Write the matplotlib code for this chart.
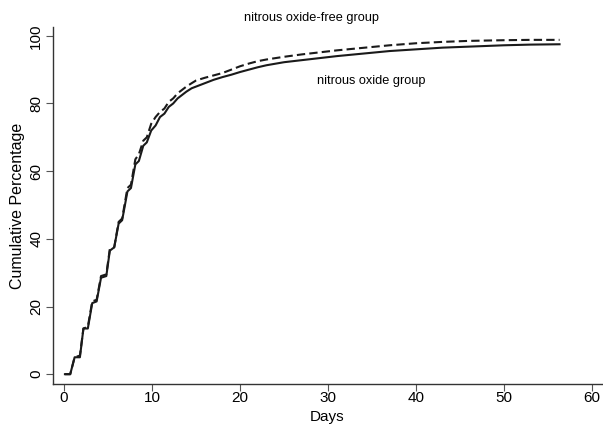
import matplotlib
matplotlib.use('Agg')
import matplotlib.pyplot as plt

# cumulative percentage (vertices of each curve)
no_days = [0.1, 0.7, 1.2, 1.8, 2.2, 2.7, 3.2, 3.7, 4.2, 4.8, 5.2, 5.7, 6.2, 6.6, 7.2, 7.6,
           8.1, 8.5, 9.0, 9.4, 9.9, 10.4, 10.9, 11.4, 11.9, 12.4, 12.9, 13.4, 13.9, 14.5,
           15, 16, 17, 18, 19, 20, 21, 22, 23, 25, 27, 29, 31, 33, 35, 37, 40, 43, 46,
           50, 53, 56.3]
no_pct = [0, 0, 5, 5, 13.5, 13.5, 21, 21.5, 28.5, 29, 36.5, 37.5, 44.5, 45.5, 54, 55,
          62, 63, 67.5, 68.5, 72, 73.5, 76, 77, 79, 80, 81.5, 82.5, 83.5, 84.5,
          85, 86, 87, 87.8, 88.5, 89.3, 90, 90.7, 91.3, 92.2, 92.8, 93.4, 94, 94.5,
          95, 95.5, 96, 96.5, 96.8, 97.2, 97.4, 97.5]

free_days = no_days
free_pct = [0, 0, 5, 5.5, 13.5, 14, 21.5, 22, 29, 29.5, 37, 37.5, 45, 46, 55, 56,
            63.5, 65, 69, 70, 74, 76, 77.5, 78.5, 80.5, 81.5, 83, 84, 85, 86,
            86.8, 87.6, 88.3, 89, 90, 91, 91.8, 92.5, 93, 93.8, 94.5, 95.1, 95.7, 96.2,
            96.7, 97.2, 97.8, 98.2, 98.5, 98.7, 98.8, 98.8]

plt.rcParams['font.family'] = ['Liberation Sans', 'DejaVu Sans']

fig = plt.figure(figsize=(6.03, 4.26), dpi=100)
ax = fig.add_axes([0.088, 0.0986, 0.910, 0.838])

ax.plot(no_days, no_pct, color='#1a1a1a', lw=1.5, solid_joinstyle='round')
ax.plot(free_days, free_pct, color='#1a1a1a', lw=1.5, linestyle=(0, (4, 2)))

ax.set_xlim(-1.25, 61.1)
ax.set_ylim(-2.9, 102.6)
ax.set_xticks(range(0, 61, 10))
ax.set_yticks(range(0, 101, 20))
for s in ['top', 'right']:
    ax.spines[s].set_visible(False)
for s in ['left', 'bottom']:
    ax.spines[s].set_color('#333333')
    ax.spines[s].set_linewidth(1.0)
ax.tick_params(axis='both', length=5, width=0.8, color='#555555', labelsize=11, pad=2)
ax.tick_params(axis='x', pad=0)
plt.setp(ax.get_yticklabels(), rotation=90, va='center')

ax.set_xlabel('Days', fontsize=11, labelpad=4)
ax.set_ylabel('Cumulative Percentage', fontsize=11.5, labelpad=3)

ax.text(28.1, 105.3, 'nitrous oxide-free group', fontsize=9.2, ha='center', va='center', clip_on=False)
ax.text(34.9, 86.5, 'nitrous oxide group', fontsize=9.2, ha='center', va='center')

fig.savefig('out.png', dpi=100)
